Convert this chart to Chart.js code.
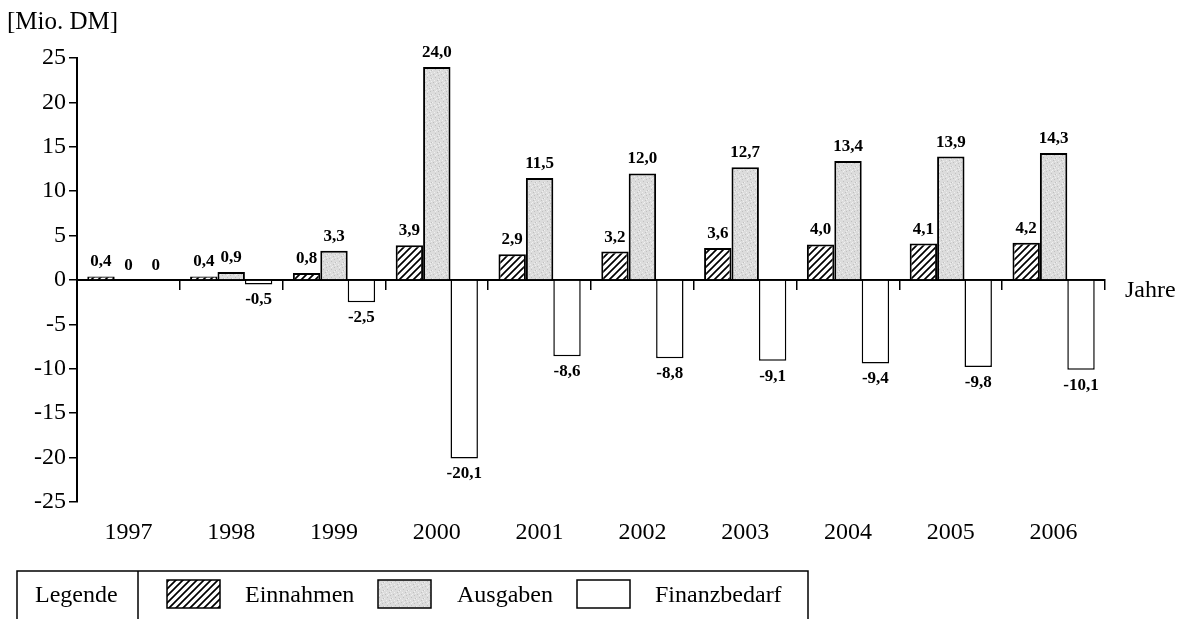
<!DOCTYPE html>
<html lang="de">
<head>
<meta charset="utf-8">
<title>Einnahmen, Ausgaben und Finanzbedarf 1997–2006</title>
<script src="https://cdn.jsdelivr.net/npm/chart.js@4.4.1/dist/chart.umd.min.js"></script>
<style>
  html, body { margin: 0; padding: 0; background: #fff; }
  #wrap { width: 1194px; height: 619px; position: relative; }
</style>
</head>
<body>
<div id="wrap"><canvas id="chart" width="1194" height="619"></canvas></div>
<script>
// Jahreswerte in Mio. DM
const jahre = ['1997', '1998', '1999', '2000', '2001', '2002', '2003', '2004', '2005', '2006'];
const einnahmen = [0.4, 0.4, 0.8, 3.9, 2.9, 3.2, 3.6, 4.0, 4.1, 4.2];
const ausgaben = [0, 0.9, 3.3, 24.0, 11.5, 12.0, 12.7, 13.4, 13.9, 14.3];
const finanzbedarf = [0, -0.5, -2.5, -20.1, -8.6, -8.8, -9.1, -9.4, -9.8, -10.1];

const yMin = -25, yMax = 25, yStep = 5;

const SERIF = '"Liberation Serif", "Times New Roman", serif';

// Schraffur (///) für die Einnahmen
function hatchPattern() {
  const c = document.createElement('canvas');
  c.width = 7; c.height = 7;
  const g = c.getContext('2d');
  g.fillStyle = '#fff';
  g.fillRect(0, 0, 7, 7);
  g.strokeStyle = '#000';
  g.lineWidth = 1.7;
  g.beginPath();
  g.moveTo(-1, 8); g.lineTo(8, -1);
  g.moveTo(-1, 1); g.lineTo(1, -1);
  g.moveTo(6, 8); g.lineTo(8, 6);
  g.stroke();
  return g.createPattern(c, 'repeat');
}

// Fein gepunktetes Grau für die Ausgaben
function stipplePattern() {
  const c = document.createElement('canvas');
  c.width = 8; c.height = 8;
  const g = c.getContext('2d');
  g.fillStyle = '#dcdcdc';
  g.fillRect(0, 0, 8, 8);
  const dark = [[1, 2], [5, 0], [3, 5], [7, 6], [6, 3]];
  const light = [[0, 6], [4, 2], [2, 0], [6, 7], [3, 3], [7, 1]];
  g.fillStyle = '#c0c0c0';
  dark.forEach(([x, y]) => g.fillRect(x, y, 1, 1));
  g.fillStyle = '#efefef';
  light.forEach(([x, y]) => g.fillRect(x, y, 1, 1));
  return g.createPattern(c, 'repeat');
}

const fillEin = hatchPattern();
const fillAus = stipplePattern();

const fmt = v => v === 0 ? '0' : v.toFixed(1).replace('.', ',');

// Wertangaben über bzw. unter den Säulen
const valueLabels = {
  id: 'valueLabels',
  afterDatasetsDraw(chart) {
    const ctx = chart.ctx;
    ctx.save();
    ctx.font = 'bold 17px ' + SERIF;
    ctx.fillStyle = '#000';
    ctx.textAlign = 'center';
    chart.data.datasets.forEach((ds, i) => {
      chart.getDatasetMeta(i).data.forEach((bar, j) => {
        const v = ds.data[j];
        const p = bar.getProps(['x', 'y'], true);
        if (v < 0) {
          ctx.textBaseline = 'top';
          ctx.fillText(fmt(v), p.x, p.y + 7);
        } else {
          ctx.textBaseline = 'alphabetic';
          ctx.fillText(fmt(v), p.x, p.y - 10);
        }
      });
    });
    ctx.restore();
  }
};

// Einheit, Achsenbeschriftung "Jahre" und Legendenleiste
const frameTexts = {
  id: 'frameTexts',
  afterDraw(chart) {
    const ctx = chart.ctx;
    const x = chart.scales.x;
    const y = chart.scales.y;
    ctx.save();
    ctx.fillStyle = '#000';
    ctx.textBaseline = 'alphabetic';
    ctx.textAlign = 'left';
    ctx.font = '25px ' + SERIF;
    ctx.fillText('[Mio. DM]', 7, 29);
    ctx.font = '24px ' + SERIF;
    ctx.fillText('Jahre', x.right + 20, y.getPixelForValue(0) + 17);

    // Legende
    const top = 571, bottom = 620;
    ctx.strokeStyle = '#000';
    ctx.lineWidth = 1.5;
    ctx.beginPath();
    ctx.moveTo(17, bottom); ctx.lineTo(17, top); ctx.lineTo(808, top); ctx.lineTo(808, bottom);
    ctx.moveTo(138, top); ctx.lineTo(138, bottom);
    ctx.stroke();

    ctx.font = '24px ' + SERIF;
    ctx.fillText('Legende', 35, 602);

    const items = [
      { sx: 167, tx: 245 },
      { sx: 378, tx: 457 },
      { sx: 577, tx: 655 }
    ];
    chart.data.datasets.forEach((ds, i) => {
      const it = items[i];
      ctx.fillStyle = ds.backgroundColor;
      ctx.fillRect(it.sx, 580, 53, 28);
      ctx.lineWidth = 1.5;
      ctx.strokeStyle = '#000';
      ctx.strokeRect(it.sx, 580, 53, 28);
      ctx.fillStyle = '#000';
      ctx.fillText(ds.label, it.tx, 602);
    });
    ctx.restore();
  }
};

new Chart(document.getElementById('chart'), {
  type: 'bar',
  data: {
    labels: jahre,
    datasets: [
      { label: 'Einnahmen', data: einnahmen, backgroundColor: fillEin, borderColor: '#000', borderWidth: 2, xAxisID: 'x', yAxisID: 'y' },
      { label: 'Ausgaben', data: ausgaben, backgroundColor: fillAus, borderColor: '#000', borderWidth: 2, xAxisID: 'x', yAxisID: 'y' },
      { label: 'Finanzbedarf', data: finanzbedarf, backgroundColor: '#fff', borderColor: '#000', borderWidth: 1.5, xAxisID: 'x', yAxisID: 'y' }
    ]
  },
  options: {
    responsive: false,
    animation: false,
    devicePixelRatio: 1,
    barPercentage: 1,
    categoryPercentage: 0.8,
    layout: { padding: { top: 58, right: 89, bottom: 67, left: 0 } },
    plugins: {
      legend: { display: false },
      tooltip: { enabled: false },
      title: { display: false }
    },
    scales: {
      x: {
        type: 'category',
        position: { y: 0 },
        z: 1,
        offset: true,
        grid: { display: true, drawOnChartArea: false, drawTicks: true, tickLength: 9, color: '#000', lineWidth: 1.5, offset: true },
        border: { display: true, color: '#000', width: 2 },
        ticks: { display: false }
      },
      x2: {
        type: 'category',
        position: 'bottom',
        labels: jahre,
        offset: true,
        grid: { display: false, drawTicks: false },
        border: { display: false },
        ticks: { color: '#000', font: { family: SERIF, size: 24 }, padding: 16, maxRotation: 0 },
        afterFit(s) { s.height = 50; }
      },
      y: {
        type: 'linear',
        position: 'left',
        min: yMin,
        max: yMax,
        grid: { drawOnChartArea: false, drawTicks: true, tickLength: 8, color: '#000', lineWidth: 1.5 },
        border: { display: true, color: '#000', width: 2 },
        ticks: {
          stepSize: yStep,
          color: '#000',
          padding: 3,
          font: { family: SERIF, size: 24 },
          callback: v => String(v)
        },
        afterFit(s) { s.width = 77; }
      }
    }
  },
  plugins: [valueLabels, frameTexts]
});
</script>
</body>
</html>
